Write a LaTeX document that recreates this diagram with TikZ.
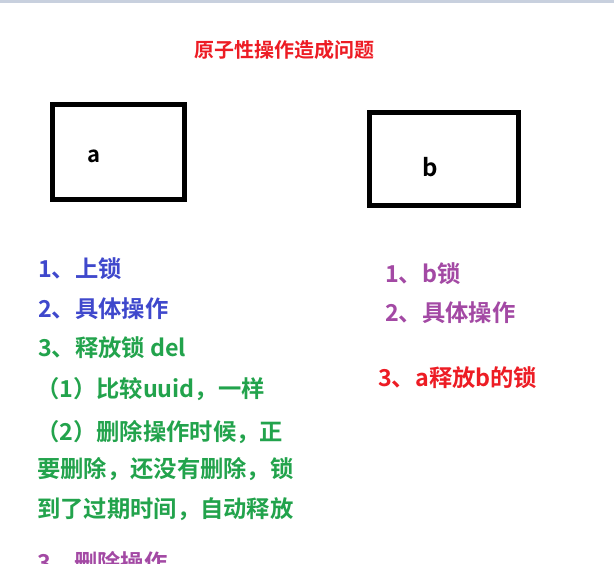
\documentclass[tikz,border=0pt]{standalone}
\usepackage{fontspec}
\setmainfont{Noto Sans CJK SC}[BoldFont={Noto Sans CJK SC Bold}]
\definecolor{cblue}{RGB}{63,72,204}
\definecolor{cgreen}{RGB}{34,163,76}
\definecolor{cpurple}{RGB}{163,73,164}
\definecolor{cred}{RGB}{237,28,36}
\definecolor{cband}{RGB}{200,208,222}
\tikzset{
  txt/.style={anchor=base west, inner sep=0pt, font=\fontsize{23.3}{26}\selectfont\bfseries},
  boxlbl/.style={inner sep=0pt, font=\fontsize{22}{24}\selectfont\bfseries, text=black},
  frame/.style={draw=black, line width=5pt}
}
\begin{document}
\begin{tikzpicture}[x=1pt,y=-1pt]
\useasboundingbox (0,0) rectangle (614,564);
\clip (0,0) rectangle (614,564);
\fill[white] (0,0) rectangle (614,564);
\fill[cband] (0,0) rectangle (614,3);
\node[anchor=base, inner sep=0pt, font=\fontsize{20}{22}\selectfont\bfseries, text=cred] (title) at (284,58) {原子性操作造成问题};
\draw[frame] (52.5,104.5) rectangle (184,200);
\node[boxlbl] (a) at (94,156) {a};
\draw[frame] (369,113) rectangle (518,205.5);
\node[boxlbl, font=\fontsize{24}{26}\selectfont\bfseries] (b) at (430,167) {b};
\node[txt, text=cblue] (l1) at (38,278) {1、上锁};
\node[txt, text=cblue] (l2) at (38,318) {2、具体操作};
\node[txt, text=cgreen] (l3) at (38,357) {3、释放锁 del};
\node[txt, text=cgreen] (l4) at (36,398) {（1）比较uuid，一样};
\node[txt, text=cgreen] (l5) at (36,441) {（2）删除操作时候，正};
\node[txt, text=cgreen] (l6) at (37,478) {要删除，还没有删除，锁};
\node[txt, text=cgreen] (l7) at (37,517) {到了过期时间，自动释放};
\node[txt, text=cpurple] (l8) at (37,571) {3、删除操作};
\node[txt, text=cpurple] (r1) at (385,283) {1、b锁};
\node[txt, text=cpurple] (r2) at (385,322) {2、具体操作};
\node[txt, text=cred] (r3) at (378,387) {3、a释放b的锁};
\end{tikzpicture}
\end{document}
